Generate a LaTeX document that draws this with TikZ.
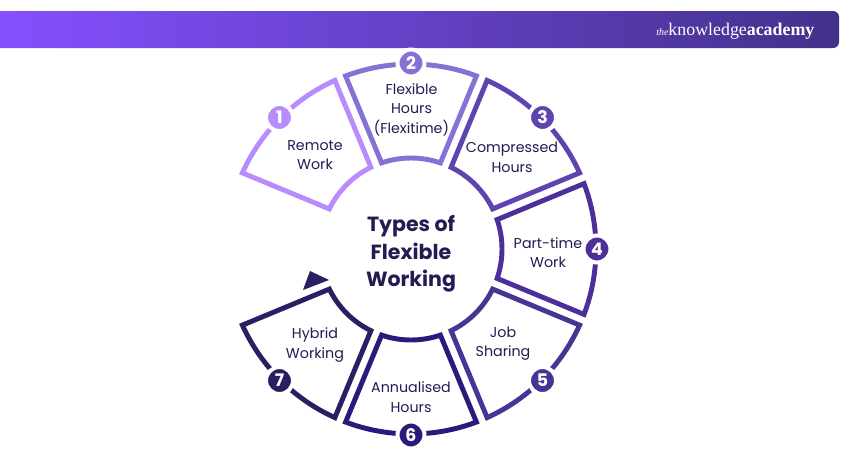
\documentclass[tikz,border=0pt]{standalone}
\usepackage{fontspec}
\setmainfont{Poppins}
\newfontfamily\logofont{Liberation Serif}
\definecolor{inkc}{HTML}{241B53}
\definecolor{cone}{HTML}{B78CFC}
\definecolor{ctwo}{HTML}{8771D5}
\definecolor{cthree}{HTML}{5F43AE}
\definecolor{cfour}{HTML}{4E2F9A}
\definecolor{cfive}{HTML}{473595}
\definecolor{csix}{HTML}{2B1A7C}
\definecolor{cseven}{HTML}{2A1F63}
\definecolor{bannerl}{HTML}{8450FF}
\definecolor{bannerr}{HTML}{43318A}
\tikzset{
  segline/.style={line width=3.7pt,miter limit=10,line join=miter},
  badge/.style={circle,inner sep=0pt,minimum size=20.25pt,text=white,font=\fontsize{13pt}{13pt}\selectfont\bfseries,draw=white,line width=3pt},
  seglabel/.style={align=center,text=inkc,font=\fontsize{10.7pt}{14.7pt}\selectfont},
  titlelabel/.style={align=center,text=inkc,font=\fontsize{15.4pt}{20.8pt}\selectfont\bfseries},
}
% #1 upper boundary angle, #2 colour
\newcommand{\segm}[2]{%
  \pgfmathsetmacro{\ua}{#1-1.8}\pgfmathsetmacro{\la}{#1-45+1.8}%
  \pgfmathsetmacro{\ub}{#1-3.65}\pgfmathsetmacro{\lb}{#1-45+3.65}%
  \draw[segline,#2] (\ua:185) arc[start angle=\ua,end angle=\la,radius=185]
    -- (\lb:91) arc[start angle=\lb,end angle=\ub,radius=91] -- cycle;%
}
\begin{document}
\begin{tikzpicture}[x=0.75pt,y=0.75pt]
\useasboundingbox (0,0) rectangle (850,-450);
\fill[white] (0,0) rectangle (850,-450);
% banner
\shade[left color=bannerl,right color=bannerr]
  (0,-11) -- (833,-11) arc[start angle=90,end angle=0,radius=6] -- (839,-42)
  arc[start angle=0,end angle=-90,radius=6] -- (0,-48) -- cycle;
\node[anchor=base west,inner sep=0pt,text=white,font=\logofont] (logo) at (656,-35)
  {{\fontsize{7.5pt}{8pt}\selectfont\itshape the}{\fontsize{13.4pt}{14pt}\selectfont knowledge}{\fontsize{13.4pt}{14pt}\selectfont\bfseries academy}};
\begin{scope}[shift={(411,-249)}]
\segm{157.5}{cone}
\segm{112.5}{ctwo}
\segm{67.5}{cthree}
\segm{22.5}{cfour}
\segm{-22.5}{cfive}
\segm{-67.5}{csix}
\segm{-112.5}{cseven}
\node[badge,fill=cone] (b1) at (135:186) {1};
\node[badge,fill=ctwo] (b2) at (90:186) {2};
\node[badge,fill=cthree] (b3) at (45:186) {3};
\node[badge,fill=cfour] (b4) at (0:186) {4};
\node[badge,fill=cfive] (b5) at (-45:186) {5};
\node[badge,fill=csix] (b6) at (-90:186) {6};
\node[badge,fill=cseven] (b7) at (-135:186) {7};
\end{scope}
\fill[cseven] (310,-271) -- (329,-280) -- (303,-290) -- cycle;
\node[titlelabel] (title) at (411,-254) {Types of\\Flexible\\Working};
\node[seglabel] (l1) at (315,-155) {Remote\\Work};
\node[seglabel] (l2) at (411.5,-109.5) {Flexible\\Hours\\(Flexitime)};
\node[seglabel] (l3) at (512,-157.5) {Compressed\\Hours};
\node[seglabel] (l4) at (548,-252.5) {Part-time\\Work};
\node[seglabel] (l5) at (503,-343.5) {Job\\Sharing};
\node[seglabel] (l6) at (411,-397) {Annualised\\Hours};
\node[seglabel] (l7) at (315,-345) {Hybrid\\Working};
\end{tikzpicture}
\end{document}
